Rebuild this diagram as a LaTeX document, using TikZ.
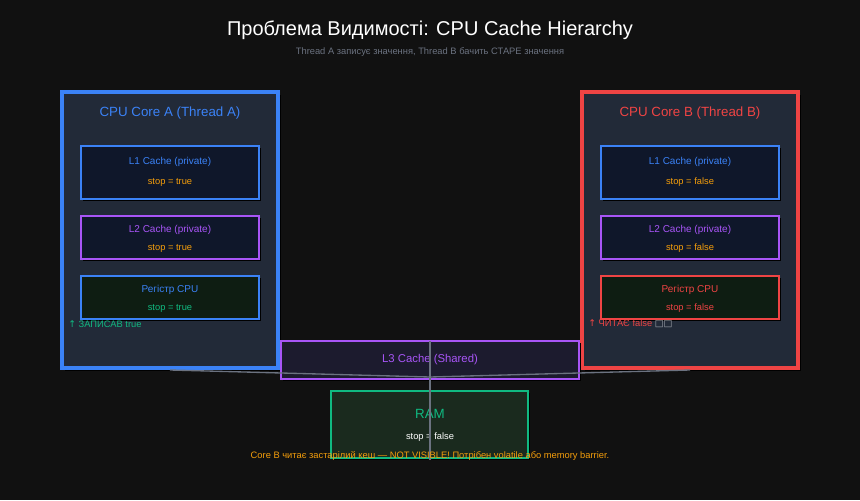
\documentclass[tikz,border=0pt]{standalone}
\usepackage{fontspec}
\setmainfont{Liberation Sans}
\newfontfamily\dejavu{DejaVu Sans}
\begin{document}
\definecolor{bg}{HTML}{111111}
\definecolor{cblue}{HTML}{3B82F6}
\definecolor{cred}{HTML}{EF4444}
\definecolor{cpurple}{HTML}{A855F7}
\definecolor{cgreen}{HTML}{10B981}
\definecolor{corange}{HTML}{F59E0B}
\definecolor{corefill}{HTML}{222A38}
\definecolor{cachefill}{HTML}{0F172A}
\definecolor{regfill}{HTML}{0E1D12}
\definecolor{l3fill}{HTML}{1C1B2E}
\definecolor{ramfill}{HTML}{1A2A1E}
\definecolor{cgray}{HTML}{6B7280}
\begin{tikzpicture}[x=0.75pt,y=-0.75pt,
  box/.style={draw, line width=1.5pt},
  core/.style={draw, line width=2.3pt, fill=corefill},
  lbl/.style={font=\fontsize{7.5}{9}\selectfont},
  val/.style={font=\fontsize{7}{9}\selectfont},
  conn/.style={draw=cgray, line width=1pt}]
\fill[bg] (0,0) rectangle (860,500);
\useasboundingbox (0,0) rectangle (860,500);
\node[white, font=\fontsize{15}{18}\selectfont] (title) at (430,30) {Проблема Видимості: CPU Cache Hierarchy};
\node[cgray, font=\fontsize{7}{9}\selectfont] (sub) at (430,52) {Thread A записує значення, Thread B бачить СТАРЕ значення};
% shadows
\fill[black] (65,95) rectangle (281,371);
\fill[black] (585,95) rectangle (801,371);
% cores
\path[core, draw=cblue] (62,92) rectangle (278,368);
\path[core, draw=cred] (582,92) rectangle (798,368);
\node[cblue, font=\fontsize{10}{12}\selectfont] (ta) at (170,113) {CPU Core A (Thread A)};
\node[cred, font=\fontsize{10}{12}\selectfont] (tb) at (690,113) {CPU Core B (Thread B)};
\foreach \dx/\nm/\regc/\vl/\rv in {0/a/cblue/true/cgreen, 520/b/cred/false/cred}{
  \begin{scope}[xshift=\dx*0.75pt]
  \fill[black] (83,148) rectangle (261,201);
  \path[box, draw=cblue, fill=cachefill] (81,146) rectangle (259,199);
  \node[lbl, cblue] (l1\nm) at (170,162) {L1 Cache (private)};
  \node[val, corange] (v1\nm) at (170,182) {stop = \vl};
  \fill[black] (83,218) rectangle (261,261);
  \path[box, draw=cpurple, fill=cachefill] (81,216) rectangle (259,259);
  \node[lbl, cpurple] (l2\nm) at (170,230) {L2 Cache (private)};
  \node[val, corange] (v2\nm) at (170,248) {stop = \vl};
  \fill[black] (83,278) rectangle (261,321);
  \path[box, draw=\regc, fill=regfill] (81,276) rectangle (259,319);
  \node[lbl, \regc] (r\nm) at (170,290) {Регістр CPU};
  \node[val, \rv] (vr\nm) at (170,308) {stop = \vl};
  \end{scope}}
\node[val, cgreen, anchor=west, inner sep=0] (na) at (68,324) {{\dejavu ↑} ЗАПИСАВ true};
\node[val, cred, anchor=west, inner sep=0] (nb) at (588,324) {{\dejavu ↑} ЧИТАЄ false \textcolor{cgray!60}{\dejavu □□}};
% L3
\fill[black] (283,343) rectangle (581,381);
\path[box, draw=cpurple, fill=l3fill] (281,341) rectangle (579,379);
\node[cpurple, font=\fontsize{8.5}{10}\selectfont] (l3) at (430,360) {L3 Cache (Shared)};
% RAM
\fill[black] (333,393) rectangle (530,460);
\path[box, draw=cgreen, fill=ramfill] (331,391) rectangle (528,458);
\node[cgreen, font=\fontsize{10}{12}\selectfont] (ram) at (430,414) {RAM};
\node[val, white] (ramv) at (430,437) {stop = false};
% connectors
\coordinate (ca) at (170,370);
\coordinate (cb) at (690,370);
\coordinate (hub) at (430,377);
\coordinate (top) at (430,341);
\coordinate (bot) at (430,460);
\draw[conn] (ca) -- (hub) -- (cb);
\draw[conn] (top) -- (bot);
\node[val, corange] (note) at (430,456) {Core B читає застарілий кеш — NOT VISIBLE! Потрібен volatile або memory barrier.};
\end{tikzpicture}
\end{document}
